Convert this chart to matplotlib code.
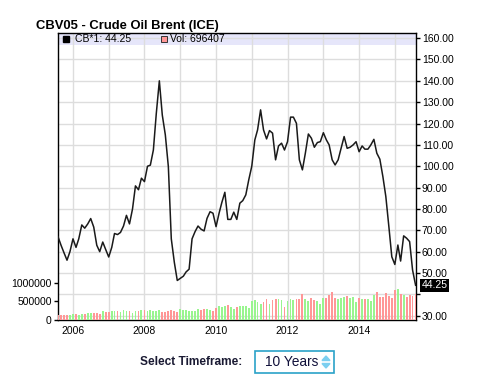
import numpy as np
import pandas as pd
import matplotlib
matplotlib.use("Agg")
import matplotlib.pyplot as plt
import matplotlib.dates as mdates
import matplotlib.transforms as mtransforms
from matplotlib.patches import Rectangle, Polygon
from matplotlib.lines import Line2D

plt.rcParams['font.family'] = ['Liberation Sans', 'DejaVu Sans']

# Monthly data, Aug 2005 .. Aug 2015
months = pd.date_range("2005-08-01", periods=121, freq="MS")

close = [
    67, 63, 59.5, 56, 60, 66, 62, 66, 72.5, 71, 73, 75.5, 71.5,            # 2005-08 .. 2006-08
    63, 60, 64.5, 61, 57.5, 62, 68.5, 68, 69, 72, 77, 73,                   # .. 2007-08
    80, 90.8, 89, 94.4, 92.8, 100, 100.5, 107.6, 124.8, 140, 124, 114.7,    # .. 2008-08
    99.8, 66, 55, 46.5, 47.5, 48.5, 50.5, 51.8, 66, 69.4, 72, 70.5,         # .. 2009-08
    69.7, 75.6, 78.7, 78, 71.7, 78, 83, 87.8, 75.1, 75.1, 78.5, 75.1,       # .. 2010-08
    82.7, 83.9, 86.6, 93.6, 100, 112.3, 117, 126.4, 117, 112.8, 116.7, 115.5,  # .. 2011-08
    103, 109.5, 110.8, 107.6, 111.5, 123, 123, 120.1, 103, 98.3, 106.1, 115.1,  # .. 2012-08
    113.1, 108.9, 111.1, 111.5, 115.7, 112.3, 110, 103, 100.6, 103, 108.4, 113.9,  # .. 2013-08
    108.4, 108.9, 110, 111.5, 106.8, 109.5, 108, 108, 110, 112.6, 106.1, 103.3,  # .. 2014-08
    95.1, 85.8, 71.7, 57.6, 54, 63.1, 55.6, 67.4, 66.3, 64.7, 51.4, 44.25,  # .. 2015-08
]

volume = [
    140000, 140000, 140000, 145000, 130000, 160000, 150000, 130000, 160000, 170000, 180000, 190000, 200000,
    190000, 170000, 240000, 210000, 220000, 240000, 240000, 240000, 220000, 260000, 250000, 250000,
    190000, 240000, 250000, 270000, 260000, 240000, 280000, 240000, 250000, 280000, 210000, 210000,
    240000, 260000, 240000, 220000, 300000, 260000, 260000, 240000, 240000, 250000, 300000, 260000,
    300000, 290000, 260000, 240000, 330000, 380000, 360000, 370000, 410000, 360000, 300000, 350000,
    380000, 380000, 380000, 330000, 500000, 536000, 474000, 429000, 474000, 563000, 429000, 536000,
    563000, 563000, 536000, 357000, 517000, 563000, 536000, 563000, 563000, 697000, 563000, 517000,
    590000, 536000, 517000, 430000, 600000, 600000, 670000, 740000, 600000, 563000, 600000, 625000,
    652000, 600000, 617000, 490000, 600000, 554000, 563000, 563000, 518000, 670000, 740000, 625000,
    625000, 715000, 652000, 600000, 804000, 830000, 697000, 670000, 625000, 670000, 652000, 696407,
]

price_ticks = [30, 40, 50, 60, 70, 80, 90, 100, 110, 120, 130, 140, 150, 160]
vol_ticks = [0, 500000, 1000000]
last_price = 44.25
last_vol = 696407

W, H = 493, 381


def fx(x):
    return x / W


def fy(y):
    return 1 - y / H


fig = plt.figure(figsize=(W / 100, H / 100), dpi=100)
ax = fig.add_axes([fx(58), fy(320), 357.6 / W, 287 / H])
ax2 = ax.twinx()

# price line
ax.plot(months, close, color="#1a1a1a", lw=1.1, zorder=3)
ax.set_ylim(27.99, 162.4)
ax.set_xlim(months[0], months[-1])
ax.set_yticks(price_ticks)
ax.set_yticklabels(["" if t == 40 else "%.2f" % t for t in price_ticks])

ax.xaxis.set_major_locator(mdates.YearLocator(1))
ax.xaxis.set_major_formatter(
    plt.FuncFormatter(lambda v, p: mdates.num2date(v).strftime("%Y")
                      if mdates.num2date(v).year % 2 == 0 else ""))
ax.tick_params(axis="x", length=0, pad=4, labelsize=7.5)
ax.grid(True, color="#dddddd", lw=1, zorder=0)
ax.set_axisbelow(True)
for s in ax.spines.values():
    s.set_color("black")
    s.set_linewidth(1)

# legend band
ax.add_patch(Rectangle((0, 1 - 12 / 287), 1, 12 / 287, transform=ax.transAxes,
                       facecolor="#e6e6fa", edgecolor="none", zorder=0.5))

# volume bars, coloured by month-on-month move
up = [False] + [close[i] >= close[i - 1] for i in range(1, len(close))]
bar_colors = ["#99f58f" if u else "#ff9797" for u in up]
ax2.bar(months, volume, width=19, color=bar_colors, linewidth=0,
        antialiased=False, zorder=2)
ax2.set_ylim(0, 7.69e6)
ax2.set_yticks(vol_ticks)
ax2.set_yticklabels([str(v) for v in vol_ticks])
for s in ax2.spines.values():
    s.set_visible(False)

# price scale on the right, volume scale on the left
ax.yaxis.set_ticks_position("right")
ax.tick_params(axis="y", which="both", left=False, labelleft=False, right=True,
               labelright=True, length=3, width=1, pad=1.5, labelsize=7.5)
ax2.yaxis.set_ticks_position("left")
ax2.tick_params(axis="y", which="both", left=True, labelleft=True, right=False,
                labelright=False, length=3, width=1, pad=1.5, labelsize=7.5)

# last price marker
trans = mtransforms.blended_transform_factory(ax.transAxes, ax.transData)
ax.text(1 + 6 / 357.6, last_price, "%.2f" % last_price, transform=trans,
        ha="left", va="center", color="white", fontsize=7.5, clip_on=False,
        bbox=dict(facecolor="black", edgecolor="none", pad=1.0), zorder=5)

# title and legend
fig.text(fx(36), fy(25.5), "CBV05 - Crude Oil Brent (ICE)", fontsize=9.4,
         fontweight="bold", ha="left", va="center")
fig.add_artist(Line2D([fx(66)], [fy(39)], marker="s", markersize=5,
                      color="black", transform=fig.transFigure))
fig.text(fx(75), fy(39.5), "CB*1: %.2f" % last_price, fontsize=7.5,
         ha="left", va="center")
fig.add_artist(Line2D([fx(164)], [fy(39)], marker="s", markersize=5,
                      markerfacecolor="#ff9797", markeredgecolor="#333333",
                      markeredgewidth=0.7, transform=fig.transFigure))
fig.text(fx(169.5), fy(39.5), "Vol: %d" % last_vol, fontsize=7.5,
         ha="left", va="center")

# timeframe selector
fig.text(fx(140), fy(362), "Select Timeframe:", fontsize=8.6, fontweight="bold",
         color="#1a1a33", ha="left", va="center")
fig.add_artist(Rectangle((fx(255), fy(373)), 79 / W, 22 / H, transform=fig.transFigure,
                         facecolor="white", edgecolor="#2aa2c8", lw=1.2))
fig.text(fx(265), fy(362), "10 Years", fontsize=9.9, color="#10103a",
         ha="left", va="center")
fig.add_artist(Polygon([(fx(322), fy(360.5)), (fx(330), fy(360.5)), (fx(326), fy(356))],
                       closed=True, transform=fig.transFigure, color="#7ccff0"))
fig.add_artist(Polygon([(fx(322), fy(363.5)), (fx(330), fy(363.5)), (fx(326), fy(368))],
                       closed=True, transform=fig.transFigure, color="#7ccff0"))

fig.savefig("out.png", dpi=100)
